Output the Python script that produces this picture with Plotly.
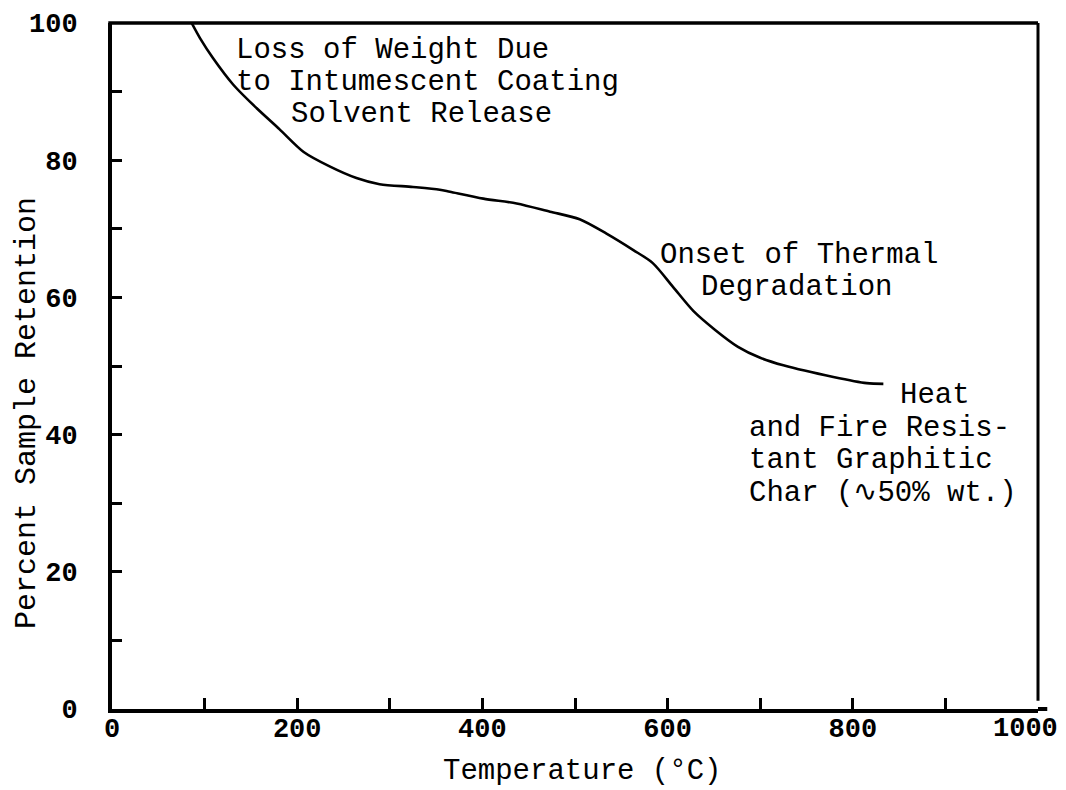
import plotly.graph_objects as go

# Data (temperature °C, percent retention)
temperature = [86, 95, 109, 131, 156, 181, 207, 235, 264, 289, 325, 354, 365, 401, 437,
               473, 505, 534, 563, 584, 606, 628, 651, 676, 700, 725, 779, 815, 833]
retention = [100, 97.8, 94.9, 91.0, 87.6, 84.5, 81.2, 79.1, 77.4, 76.5, 76.1, 75.7, 75.4, 74.4, 73.7,
             72.5, 71.4, 69.3, 66.9, 65.0, 61.5, 58.0, 55.3, 52.8, 51.2, 50.1, 48.4, 47.5, 47.4]

x_tickvals = list(range(0, 1001, 100))
x_ticktext = ["0", "", "200", "", "400", "", "600", "", "800", "", ""]
last_x_label = ("1000", 987)   # printed slightly left of its tick in the original
y_tickvals = list(range(0, 101, 10))
y_ticktext = ["0", "", "20", "", "40", "", "60", "", "80", "", "100"]

# Annotation lines: (text, x, y) in data coordinates, left anchored
notes = [
    ("Loss of Weight Due", 133, 96.0),
    ("to Intumescent Coating", 133, 91.3),
    ("Solvent Release", 192, 86.6),
    ("Onset of Thermal", 591, 66.1),
    ("Degradation", 635, 61.4),
    ("Heat", 850, 45.7),
    ("and Fire Resis-", 687, 40.95),
    ("tant Graphitic", 687, 36.2),
    ("Char (\u223f50% wt.)", 687, 31.45),
]

FONT = "Liberation Mono"
TICKFONT = dict(family=FONT, size=27, color="black", weight="bold")

fig = go.Figure()
fig.add_trace(go.Scatter(
    x=temperature, y=retention, mode="lines",
    line=dict(color="black", width=2.6, shape="spline", smoothing=0.8),
    hoverinfo="skip", showlegend=False,
))

# Top and right frame lines, plus small overhang of the bottom axis
fig.add_shape(type="line", x0=-0.004, x1=1.0, y0=1, y1=1,
              xref="paper", yref="paper", line=dict(color="black", width=3.5))
fig.add_shape(type="line", x0=1.0, x1=1.0, y0=0.012, y1=1,
              xref="paper", yref="paper", line=dict(color="black", width=3))
fig.add_shape(type="line", x0=1.0, x1=1.01, y0=0, y1=0,
              xref="paper", yref="paper", line=dict(color="black", width=4))

for text, xx, yy in notes:
    fig.add_annotation(x=xx, y=yy, xref="x", yref="y", text=text, showarrow=False,
                       xanchor="left", yanchor="middle", borderpad=0,
                       font=dict(family=FONT, size=29, color="black"))

fig.add_annotation(x=last_x_label[1], y=-0.0292, xref="x", yref="paper",
                   text=last_x_label[0], showarrow=False,
                   xanchor="center", yanchor="middle", borderpad=0, font=TICKFONT)

fig.add_annotation(x=0.5076, y=-0.0904, xref="paper", yref="paper",
                   text="Temperature (\u00b0C)", showarrow=False,
                   xanchor="center", yanchor="middle", borderpad=0,
                   font=dict(family=FONT, size=29, color="black"))
fig.add_annotation(x=-0.0918, y=0.4315, xref="paper", yref="paper",
                   text="Percent Sample Retention", showarrow=False, textangle=-90,
                   xanchor="center", yanchor="middle", borderpad=0,
                   font=dict(family=FONT, size=30, color="black"))

fig.update_xaxes(range=[0, 1000], tickvals=x_tickvals, ticktext=x_ticktext,
                 ticks="inside", ticklen=11, tickwidth=3, tickcolor="black",
                 showline=True, linecolor="black", linewidth=4,
                 showgrid=False, zeroline=False, ticklabelstandoff=-8,
                 automargin=False, tickfont=TICKFONT)
fig.update_yaxes(range=[0, 100], tickvals=y_tickvals, ticktext=y_ticktext,
                 ticks="inside", ticklen=10, tickwidth=3, tickcolor="black",
                 showline=True, linecolor="black", linewidth=4,
                 showgrid=False, zeroline=False, ticklabelstandoff=25,
                 automargin=False, tickfont=TICKFONT)

# The page adds an 8px body margin, so the figure is 8px smaller than the window
fig.update_layout(
    width=1058, height=782,
    margin=dict(l=104, r=28, t=15, b=81, autoexpand=False),
    plot_bgcolor="white", paper_bgcolor="white",
    showlegend=False,
)

fig.write_html("out.html")
